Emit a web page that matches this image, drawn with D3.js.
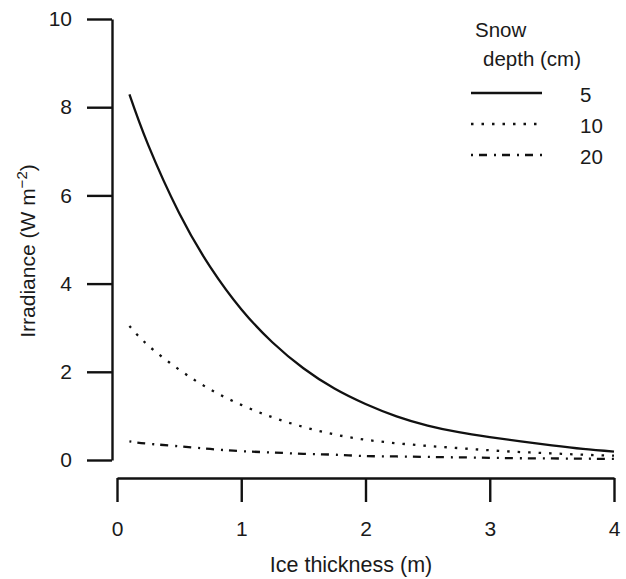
<!DOCTYPE html>
<html>
<head>
<meta charset="utf-8">
<script src="https://cdn.jsdelivr.net/npm/d3@7"></script>
<style>
  body { margin: 0; background: #fff; }
  text { font-family: "Liberation Sans", Arial, sans-serif; fill: #1a1a1a; }
</style>
</head>
<body>
<div id="chart"></div>
<script>
// ice thickness (m) sampled along the curves
var thickness = [0.1, 0.25, 0.5, 0.75, 1, 1.25, 1.5, 1.75, 2, 2.25, 2.5, 2.75, 3, 3.25, 3.5, 3.75, 4];

// irradiance (W m-2), one list per snow depth
var snow5  = [8.29, 7.15, 5.6, 4.38, 3.42, 2.67, 2.08, 1.62, 1.27, 0.99, 0.78, 0.63, 0.52, 0.42, 0.33, 0.25, 0.19];
var snow10 = [3.04, 2.6, 2.05, 1.6, 1.25, 0.97, 0.75, 0.58, 0.46, 0.38, 0.32, 0.27, 0.22, 0.18, 0.15, 0.12, 0.10];
var snow20 = [0.42, 0.37, 0.31, 0.25, 0.2, 0.17, 0.14, 0.12, 0.09, 0.08, 0.07, 0.06, 0.05, 0.04, 0.035, 0.03, 0.025];

var depths = ["5", "10", "20"];
var xTicks = [0, 1, 2, 3, 4];
var yTicks = [0, 2, 4, 6, 8, 10];

var width = 626, height = 579;

var svg = d3.select("#chart")
  .append("svg")
    .attr("width", width)
    .attr("height", height);

var x = d3.scaleLinear().domain([0, 4]).range([117, 614]);
var y = d3.scaleLinear().domain([0, 10]).range([460, 19]);

// line styles for each snow depth
var dashes = { "5": null, "10": "2.5,8", "20": "2,6,8,7" };

// y axis
var yAxis = svg.append("g")
  .attr("transform", "translate(112,0)")
  .call(d3.axisLeft(y).tickValues(yTicks).tickFormat(d3.format("d"))
    .tickSize(25).tickSizeOuter(0).tickPadding(15));

// x axis
var xAxis = svg.append("g")
  .attr("transform", "translate(0,478)")
  .call(d3.axisBottom(x).tickValues(xTicks).tickFormat(d3.format("d"))
    .tickSize(24).tickSizeOuter(0).tickPadding(19));

[yAxis, xAxis].forEach(function(ax) {
  ax.select(".domain").attr("stroke", "#111").attr("stroke-width", 2.4);
  ax.selectAll(".tick line").attr("stroke", "#111").attr("stroke-width", 2.4);
  ax.selectAll(".tick text")
    .style("font-family", "'Liberation Sans', Arial, sans-serif")
    .style("font-size", "21px")
    .attr("fill", "#1a1a1a");
});

// axis titles
svg.append("text")
  .attr("x", 351)
  .attr("y", 572)
  .attr("text-anchor", "middle")
  .style("font-size", "21.5px")
  .text("Ice thickness (m)");

var yTitle = svg.append("text")
  .attr("transform", "translate(35,251) rotate(-90)")
  .attr("text-anchor", "middle")
  .style("font-size", "21px");
yTitle.append("tspan").text("Irradiance (W m");
yTitle.append("tspan").attr("dy", -8).style("font-size", "15px").text("\u22122");
yTitle.append("tspan").attr("dy", 8).text(")");

// curves
var series = [
  { depth: "5", values: snow5 },
  { depth: "10", values: snow10 },
  { depth: "20", values: snow20 }
];

var line = d3.line()
  .x(function(d) { return x(d[0]); })
  .y(function(d) { return y(d[1]); })
  .curve(d3.curveNatural);

svg.append("g")
  .selectAll("path")
  .data(series)
  .enter()
  .append("path")
    .attr("d", function(s) {
      return line(thickness.map(function(t, i) { return [t, s.values[i]]; }));
    })
    .attr("fill", "none")
    .attr("stroke", "#111")
    .attr("stroke-width", 2.3)
    .attr("stroke-dasharray", function(s) { return dashes[s.depth]; });

// legend
var legend = svg.append("g");
legend.append("text").attr("x", 475).attr("y", 37).style("font-size", "20.5px").text("Snow");
legend.append("text").attr("x", 483).attr("y", 66).style("font-size", "20.5px").text("depth (cm)");

var rows = legend.selectAll("g.row")
  .data(depths)
  .enter()
  .append("g")
    .attr("class", "row")
    .attr("transform", function(d, i) { return "translate(0," + (93 + i * 31) + ")"; });

rows.append("line")
  .attr("x1", 471)
  .attr("x2", 542)
  .attr("stroke", "#111")
  .attr("stroke-width", 2.3)
  .attr("stroke-dasharray", function(d) { return dashes[d]; });

rows.append("text")
  .attr("x", 580)
  .attr("y", 9)
  .style("font-size", "20.5px")
  .text(function(d) { return d; });
</script>
</body>
</html>
